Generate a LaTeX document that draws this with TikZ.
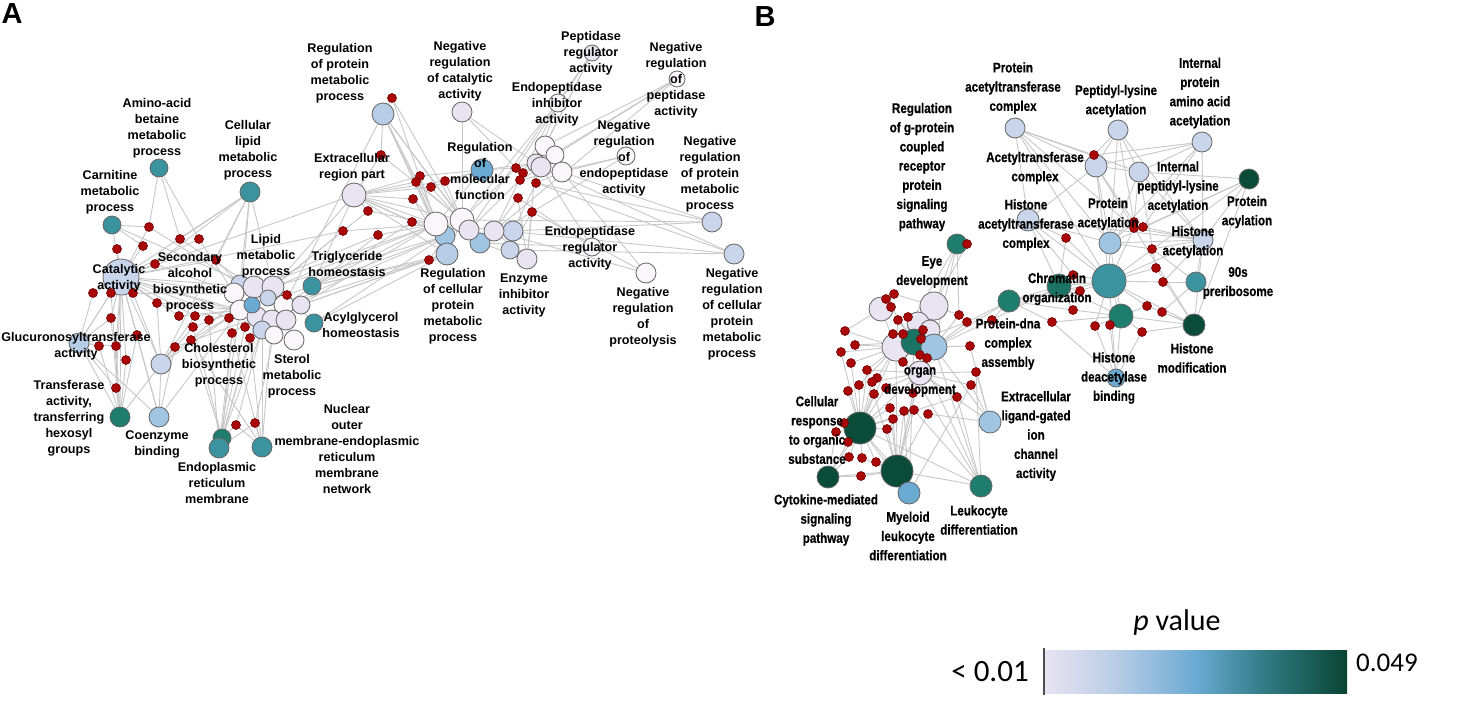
\documentclass[tikz,border=0pt]{standalone}
\usepackage{fontspec}
\setmainfont{Liberation Sans}
\newfontfamily\narrowfont[FakeStretch=0.83,FakeBold=0.5]{Liberation Sans}
\newfontfamily\barfont{Carlito}
\usepackage{tikz}
\usetikzlibrary{shapes,positioning}
\definecolor{colorLav}{RGB}{233,228,241}
\definecolor{colorWh}{RGB}{250,246,250}
\definecolor{colorLB}{RGB}{200,213,235}
\definecolor{colorLBb}{RGB}{183,204,230}
\definecolor{colorSB}{RGB}{160,197,226}
\definecolor{colorMB}{RGB}{107,170,211}
\definecolor{colorT}{RGB}{59,147,160}
\definecolor{colorDT}{RGB}{31,125,110}
\definecolor{colorDG}{RGB}{11,76,56}
\definecolor{colorRd}{RGB}{170,8,8}
\definecolor{colorRdD}{RGB}{110,0,0}
\definecolor{colorEd}{RGB}{200,200,200}
\pgfdeclarelayer{background}
\pgfsetlayers{background,main}
\pgfdeclarehorizontalshading{pval}{100bp}{color(0bp)=(colorLav); color(25bp)=(colorLav);
  color(37bp)=(colorLBb); color(50bp)=(colorMB); color(61bp)=(colorT!85!black);
  color(75bp)=(colorDG!90!black); color(100bp)=(colorDG!90!black)}
\tikzstyle{term}=[circle, draw=black!60, line width=0.4pt, inner sep=0pt]
\tikzstyle{gene}=[circle, fill=colorRd, draw=colorRdD, line width=0.3pt, inner sep=0pt, minimum size=4.5pt]
\tikzstyle{edge}=[draw=colorEd, line width=0.45pt]
\tikzstyle{labA}=[font=\fontsize{6.3}{8}\selectfont\bfseries, align=center, inner sep=0pt]
\tikzstyle{labB}=[font=\narrowfont\fontsize{7}{9.6}\selectfont\bfseries, align=center, inner sep=0pt]
\tikzstyle{panel}=[font=\fontsize{14.5}{16}\selectfont\bfseries, inner sep=0pt]

\begin{document}
\begin{tikzpicture}[x=0.5pt,y=-0.5pt]
\useasboundingbox (0,0) rectangle (1476,702);

\node[panel] (titleA) at (12,14) {A};
\node[panel] (titleB) at (765,17) {B};

% panel A, term nodes
\foreach \n/\x/\y/\s/\c in {aAmino/159/168/9/colorT, aCarn/112/225/9/colorT, aCellLip/250/192/10/colorT,
  aCat/121/277/18/colorLB, aGluc/79/343/10/colorLBb, aTrans/120/417/10/colorDT, aCoenz/159/417/10/colorSB,
  aChol/161/364/10/colorLB, aER1/222/438/9/colorDT, aER2/219/448/10/colorT, aNuc/262/447/10/colorT,
  aTrig/312/286/9/colorT, aAcyl/314/323/9/colorT,
  aL1/240/284/9/colorLB, aL2/254/287/11/colorLav, aL3/273/287/11/colorLav, aL4/234/293/10/colorWh,
  aL15/268/298/8/colorLB, aL6/284/305/10/colorWh, aL7/301/305/9/colorLav, aL8/240/310/10/colorWh,
  aL9/257/317/10/colorLav, aL10/272/320/10/colorLav, aL11/286/320/10/colorLav, aL12/262/330/9/colorLB,
  aL13/274/335/9/colorWh, aL14/294/340/10/colorWh, aL5/252/305/8/colorMB,
  aRegProt/383/114/11/colorLBb, aNegCat/462/112/10/colorLav, aPept/592/53/8/colorLav,
  aNegPept/677/79/8/colorWh, aEndoInh/558/103/9/colorWh, aNegEndo/626/156/9/colorWh,
  aNegProt/712/222/10/colorLB, aNegCell/734/254/10/colorLB, aEndoReg/592/247/9/colorWh,
  aNegProteo/646/273/10/colorWh, aEnz/527/259/10/colorLav, aRegMol/482/170/11/colorMB,
  aExtra/354/195/12/colorLav,
  aC1/445/236/10/colorSB, aC2/480/243/10/colorSB, aC7/513/231/10/colorLB, aC8/510/250/9/colorLB,
  aC3/436/224/12/colorWh, aC4/462/220/12/colorWh, aC5/469/230/10/colorLav, aC6/494/231/10/colorLav,
  aRegCell/447/254/11/colorLBb,
  aS1/545/146/10/colorWh, aS2/555/155/9/colorWh, aS3/536/163/9/colorLav, aS4/541/167/10/colorLav,
  aS5/562/172/10/colorWh}
  \node[term, fill=\c, minimum size=\s pt] (\n) at (\x,\y) {};

% panel A, genes
\foreach \x/\y [count=\i] in {392/98, 381/155, 420/176, 416/182, 431/187, 445/181, 413/199, 368/211,
  343/231, 378/235, 412/222, 429/260, 516/168, 523/173, 520/180, 536/183, 518/198, 532/212,
  149/227, 143/246, 117/249, 180/239, 199/239, 155/264, 216/260, 93/293, 111/293, 133/293,
  157/303, 111/318, 179/316, 195/316, 193/327, 209/320, 229/318, 137/335, 99/346, 116/346,
  126/360, 175/347, 191/340, 232/333, 245/327, 250/338, 287/295, 116/388, 236/425, 255/423}
  \node[gene] (ga\i) at (\x,\y) {};

% panel B, term nodes
\foreach \n/\x/\y/\s/\c in {bProtAT/1015/128/10/colorLB, bPepLys/1118/130/10/colorLB,
  bIntProt/1202/142/10/colorLB, bGprot/957/244/10/colorDT, bAcetC/1096/166/11/colorLB,
  bIntPep/1139/172/10/colorLB, bAcyl/1249/179/10/colorDG, bHisAT/1028/220/11/colorLB,
  bProtAc/1110/243/11/colorSB, bHisAc/1203/240/10/colorLB, b90s/1196/282/10/colorT,
  bBig/1109/281/17/colorT, bChrom/1059/286/12/colorDT!80!colorDG, bPDNA/1009/301/11/colorDT,
  bT2/1121/316/12/colorDT, bHisMod/1194/325/11/colorDG, bHDAC/1116/378/9/colorMB,
  bE1/934/306/14/colorLav, bE2/881/309/12/colorLav, bO1/918/323/11/colorLav, bO2/930/330/10/colorLav,
  bO3/896/347/14/colorLav, bO4/920/373/12/colorLav, bO5/914/342/13/colorDT!80!colorDG,
  bO6/934/347/13/colorSB,
  bCell/860/428/16/colorDG, bCyto/828/477/11/colorDG, bBigG/897/471/16/colorDG,
  bMyel/909/493/11/colorMB, bLeuk/981/486/11/colorDT, bExtra/990/422/11/colorSB}
  \node[term, fill=\c, minimum size=\s pt] (\n) at (\x,\y) {};

% panel B, genes
\foreach \x/\y [count=\i] in {1094/155, 1066/238, 1134/222, 1134/228, 1143/227, 1152/249, 1156/268,
  1163/282, 1073/275, 1080/291, 1073/310, 1052/322, 1095/326, 1110/325, 1147/306, 1162/312,
  1142/332, 992/320, 967/244, 959/315, 967/322, 970/346, 976/372, 971/385, 957/397,
  845/331, 855/345, 841/352, 851/363, 867/370, 886/299, 894/294, 891/307, 898/320, 908/317,
  893/334, 903/334, 921/339, 923/330, 920/355, 903/362, 927/358, 877/378, 872/382, 886/388,
  859/385, 848/391, 874/394, 913/393, 890/408, 904/411, 914/410, 928/414, 893/419, 887/429,
  844/423, 836/432, 848/442, 849/457, 862/458, 876/462, 861/476}
  \node[gene] (gb\i) at (\x,\y) {};

\begin{pgfonlayer}{background}
\fill[white] (0,0) rectangle (1476,702);
% panel A, gene to term
\foreach \g/\ts in {1/{aRegProt,aC3,aC4}, 2/{aExtra,aRegProt,aC4}, 3/{aExtra,aRegMol,aC3},
  4/{aExtra,aC4,aRegCell}, 5/{aExtra,aRegMol,aC5}, 6/{aRegMol,aC4,aExtra}, 7/{aExtra,aC3,aRegCell},
  8/{aExtra,aC3,aL3}, 9/{aL3,aC3,aCat}, 10/{aC3,aL2,aTrig}, 11/{aC3,aExtra,aL6}, 12/{aC1,aL7,aTrig},
  13/{aS3,aC4,aRegMol,aNegCat,aPept}, 14/{aS4,aC6,aEndoInh,aNegPept}, 15/{aC5,aS4,aNegEndo},
  16/{aC7,aS5,aNegProt,aNegCell}, 17/{aC6,aEnz,aEndoReg}, 18/{aC8,aNegProteo,aEnz},
  19/{aCarn,aCat,aAmino,aL1}, 20/{aCat,aCarn}, 21/{aCat}, 22/{aAmino,aL2,aCellLip},
  23/{aAmino,aL4,aCat}, 24/{aCat,aL4,aCellLip}, 25/{aCat,aL1,aCellLip}, 26/{aCat,aGluc},
  27/{aCat,aGluc,aTrans}, 28/{aCat,aL4,aChol}, 29/{aCat,aL8,aChol}, 30/{aCat,aGluc,aTrans},
  31/{aL8,aCat}, 32/{aL8,aCat,aChol}, 33/{aL8,aChol,aER1}, 34/{aL8,aER2}, 35/{aL8,aL9,aCat},
  36/{aCat,aGluc,aTrans,aCoenz}, 37/{aGluc,aTrans}, 38/{aGluc,aCat,aTrans}, 39/{aTrans,aCat},
  40/{aChol,aL9,aCoenz}, 41/{aL8,aER1,aNuc}, 42/{aL9,aER1,aER2,aNuc}, 43/{aL9,aL12,aER2},
  44/{aL12,aER1,aNuc}, 45/{aL6,aTrig,aAcyl}, 46/{aTrans,aGluc,aCat}, 47/{aER1,aNuc,aL12},
  48/{aNuc,aER2,aL13}}
  {\foreach \t in \ts \draw[edge] (ga\g) -- (\t);}
% panel A, term to term
\foreach \u/\v in {aRegProt/aC3, aRegProt/aC4, aRegProt/aC1, aRegProt/aRegCell, aRegProt/aC2,
  aNegCat/aC4, aNegCat/aS4, aExtra/aC3, aExtra/aC4, aExtra/aC1, aExtra/aRegCell, aExtra/aL3,
  aExtra/aTrig, aRegMol/aC3, aRegMol/aS3, aPept/aS1, aPept/aC5, aPept/aS3, aNegPept/aS1,
  aNegPept/aS2, aNegPept/aC6, aEndoInh/aS3, aEndoInh/aC4, aNegEndo/aS5, aNegEndo/aC2,
  aNegProt/aS5, aNegProt/aC7, aNegProt/aC4, aNegCell/aS4, aNegCell/aC8, aNegCell/aC3,
  aEndoReg/aS4, aEndoReg/aC2, aNegProteo/aS5, aNegProteo/aC6, aEnz/aC6, aEnz/aS3, aEnz/aC2,
  aRegCell/aC4, aTrig/aC1, aTrig/aC3, aTrig/aRegCell, aAcyl/aC1, aAcyl/aRegCell, aL3/aC3,
  aL2/aC3, aL6/aC1, aL7/aRegCell, aL7/aC3, aCat/aL2, aCat/aL4, aCat/aL8, aCat/aL9,
  aCat/aCellLip, aCat/aGluc, aCat/aTrans, aCat/aCoenz, aCat/aChol, aCat/aCarn, aCat/aExtra,
  aCellLip/aL3, aCellLip/aL1, aCellLip/aChol, aCellLip/aL8, aChol/aL8, aChol/aL2, aChol/aCoenz,
  aCoenz/aL8, aTrans/aChol, aGluc/aTrans, aGluc/aCoenz, aER1/aL9, aER1/aL12, aER2/aL8,
  aNuc/aL10, aNuc/aL12, aCarn/aL2, aL3/aC1, aL6/aRegCell, aRegProt/aL6}
  \draw[edge] (\u) -- (\v);
% panel B, gene to term
\foreach \g/\ts in {1/{bProtAT,bAcetC,bPepLys,bIntProt}, 2/{bHisAT,bChrom,bBig},
  3/{bIntPep,bPepLys,bProtAc,bAcetC}, 4/{bProtAT,bHisAc,bBig}, 5/{bIntProt,bAcyl,bHisAc},
  6/{bProtAc,b90s,bHisAc}, 7/{bBig,bHisMod,bIntPep}, 8/{b90s,bBig,bHisAc}, 9/{bChrom,bHisAT,bBig},
  10/{bChrom,bPDNA,bBig}, 11/{bT2,bChrom,bPDNA}, 12/{bPDNA,bT2,bHDAC}, 13/{bT2,bHDAC,bBig},
  14/{bT2,bHDAC}, 15/{bHisMod,bBig,bT2}, 16/{bHisMod,b90s}, 17/{bHisMod,bT2,bHDAC},
  18/{bPDNA,bO6,bChrom}, 19/{bGprot,bO5}, 20/{bO6,bE1,bGprot}, 21/{bO6,bO5,bPDNA}, 22/{bO6,bExtra},
  23/{bO4,bExtra,bLeuk}, 24/{bO4,bExtra,bMyel}, 25/{bO4,bLeuk,bCell}, 26/{bO3,bE2}, 27/{bO3,bO5},
  28/{bO3,bCell}, 29/{bO3,bCell}, 30/{bO3,bO4,bCell}, 31/{bE2,bO5}, 32/{bE2,bE1}, 33/{bE2,bO5},
  34/{bO3,bO5}, 35/{bO1,bO5}, 36/{bO3,bO5}, 37/{bO5,bO3}, 38/{bO5,bO6}, 39/{bO1,bO6},
  40/{bO4,bO5}, 41/{bO3,bO4}, 42/{bO6,bO4}, 43/{bO3,bCell}, 44/{bCell,bO4}, 45/{bCell,bO4},
  46/{bCell,bO3}, 47/{bCell}, 48/{bCell,bBigG}, 49/{bO4,bBigG}, 50/{bBigG,bCell}, 51/{bBigG,bMyel},
  52/{bBigG,bLeuk}, 53/{bExtra,bBigG}, 54/{bBigG,bCell}, 55/{bCell,bBigG}, 56/{bCell},
  57/{bCell,bCyto}, 58/{bCell,bCyto}, 59/{bCell,bCyto}, 60/{bCell,bBigG}, 61/{bBigG,bCell},
  62/{bBigG,bCyto}}
  {\foreach \t in \ts \draw[edge] (gb\g) -- (\t);}
% panel B, term to term
\foreach \u/\v in {bProtAT/bAcetC, bProtAT/bHisAT, bProtAT/bProtAc, bProtAT/bBig, bProtAT/bIntPep,
  bPepLys/bAcetC, bPepLys/bProtAc, bPepLys/bIntPep, bPepLys/bHisAc, bIntProt/bIntPep,
  bIntProt/bProtAc, bIntProt/bHisAc, bIntProt/bAcetC, bAcetC/bHisAT, bAcetC/bProtAc, bAcetC/bBig,
  bAcetC/bHisMod, bAcetC/bIntPep, bIntPep/bProtAc, bIntPep/bHisAc, bIntPep/bAcyl, bAcyl/bHisAc,
  bAcyl/bProtAc, bAcyl/bHisMod, bAcyl/bBig, bHisAT/bProtAc, bHisAT/bChrom, bHisAT/bHisAc,
  bHisAT/bBig, bProtAc/bBig, bProtAc/bT2, bProtAc/bHisAc, bHisAc/bHisMod, bHisAc/bBig,
  bHisAc/b90s, bBig/bChrom, bBig/bT2, bBig/bHisMod, bBig/bHDAC, bChrom/bPDNA, bChrom/bT2,
  bT2/bHDAC, bT2/bHisMod, bPDNA/bO6, bPDNA/bBig, bGprot/bO6, bGprot/bE1, bGprot/bO3, bE1/bO5,
  bE1/bO6, bE2/bO3, bO3/bCell, bO3/bBigG, bO4/bBigG, bO4/bCell, bO6/bLeuk, bO6/bExtra, bO5/bLeuk,
  bO5/bMyel, bCell/bBigG, bCell/bCyto, bCell/bMyel, bBigG/bMyel, bBigG/bLeuk, bCell/bLeuk,
  bCyto/bBigG, bExtra/bO4, bO3/bLeuk}
  \draw[edge] (\u) -- (\v);
\end{pgfonlayer}

% panel A, labels
\node[labA] (lAmino) at (157,128) {Amino-acid\\betaine\\metabolic\\process};
\node[labA] (lCarn) at (110,192) {Carnitine\\metabolic\\process};
\node[labA] (lCellLip) at (248,150) {Cellular\\lipid\\metabolic\\process};
\node[labA] (lCat) at (119,278) {Catalytic\\activity};
\node[labA] (lGluc) at (76,346) {Glucuronosyltransferase\\activity};
\node[labA] (lTrans) at (69,418) {Transferase\\activity,\\transferring\\hexosyl\\groups};
\node[labA] (lCoenz) at (157,444) {Coenzyme\\binding};
\node[labA] (lER) at (217,483) {Endoplasmic\\reticulum\\membrane};
\node[labA] (lNuc) at (347,449) {Nuclear\\outer\\membrane-endoplasmic\\reticulum\\membrane\\network};
\node[labA] (lSec) at (190,282) {Secondary\\alcohol\\biosynthetic\\process};
\node[labA] (lLipid) at (266,256) {Lipid\\metabolic\\process};
\node[labA] (lChol) at (219,365) {Cholesterol\\biosynthetic\\process};
\node[labA] (lSterol) at (292,376) {Sterol\\metabolic\\process};
\node[labA] (lTrig) at (347,264) {Triglyceride\\homeostasis};
\node[labA] (lAcyl) at (361,325) {Acylglycerol\\homeostasis};
\node[labA] (lRegProt) at (340,73) {Regulation\\of protein\\metabolic\\process};
\node[labA] (lNegCat) at (460,71) {Negative\\regulation\\of catalytic\\activity};
\node[labA] (lPept) at (591,53) {Peptidase\\regulator\\activity};
\node[labA] (lNegPept) at (676,80) {Negative\\regulation\\of\\peptidase\\activity};
\node[labA] (lEndoInh) at (557,104) {Endopeptidase\\inhibitor\\activity};
\node[labA] (lNegEndo) at (624,158) {Negative\\regulation\\of\\endopeptidase\\activity};
\node[labA] (lNegProt) at (710,174) {Negative\\regulation\\of protein\\metabolic\\process};
\node[labA] (lNegCell) at (732,314) {Negative\\regulation\\of cellular\\protein\\metabolic\\process};
\node[labA] (lEndoReg) at (590,248) {Endopeptidase\\regulator\\activity};
\node[labA] (lNegProteo) at (643,317) {Negative\\regulation\\of\\proteolysis};
\node[labA] (lEnz) at (524,295) {Enzyme\\inhibitor\\activity};
\node[labA] (lRegCell) at (453,306) {Regulation\\of cellular\\protein\\metabolic\\process};
\node[labA] (lRegMol) at (480,171) {Regulation\\of\\molecular\\function};
\node[labA] (lExtra) at (352,167) {Extracellular\\region part};

% panel B, labels
\node[labB] (lProtAT) at (1013,88) {Protein\\acetyltransferase\\complex};
\node[labB] (lPepLys) at (1116,101) {Peptidyl-lysine\\acetylation};
\node[labB] (lIntProt) at (1200,93) {Internal\\protein\\amino acid\\acetylation};
\node[labB] (lGprot) at (922,167) {Regulation\\of g-protein\\coupled\\receptor\\protein\\signaling\\pathway};
\node[labB] (lAcetC) at (1035,168) {Acetyltransferase\\complex};
\node[labB] (lIntPep) at (1178,187) {Internal\\peptidyl-lysine\\acetylation};
\node[labB] (lAcyl) at (1247,212) {Protein\\acylation};
\node[labB] (lHisAT) at (1026,225) {Histone\\acetyltransferase\\complex};
\node[labB] (lProtAc) at (1108,214) {Protein\\acetylation};
\node[labB] (lHisAc) at (1193,242) {Histone\\acetylation};
\node[labB] (l90s) at (1238,283) {90s\\preribosome};
\node[labB] (lChrom) at (1057,289) {Chromatin\\organization};
\node[labB] (lPDNA) at (1008,344) {Protein-dna\\complex\\assembly};
\node[labB] (lHisMod) at (1192,358) {Histone\\modification};
\node[labB] (lHDAC) at (1114,378) {Histone\\deacetylase\\binding};
\node[labB] (lEye) at (932,272) {Eye\\development};
\node[labB] (lOrgan) at (920,382) {organ\\development};
\node[labB] (lCell) at (817,430) {Cellular\\response\\to organic\\substance};
\node[labB] (lCyto) at (826,520) {Cytokine-mediated\\signaling\\pathway};
\node[labB] (lMyel) at (908,536) {Myeloid\\leukocyte\\differentiation};
\node[labB] (lLeuk) at (979,520) {Leukocyte\\differentiation};
\node[labB] (lExtraB) at (1036,436) {Extracellular\\ligand-gated\\ion\\channel\\activity};

% colour bar
\shade[shading=pval] (1044,650) rectangle (1347,693);
\draw[black!70, line width=0.6pt] (1044,648) -- (1044,695);
\node[font=\barfont\fontsize{15}{17}\selectfont] (pLab) at (1177,622) {\textit{p} value};
\node[font=\barfont\fontsize{15.5}{17}\selectfont] (pMin) at (990,672) {< 0.01};
\node[font=\barfont\fontsize{13.5}{15}\selectfont] (pMax) at (1387,663) {0.049};
\end{tikzpicture}
\end{document}
